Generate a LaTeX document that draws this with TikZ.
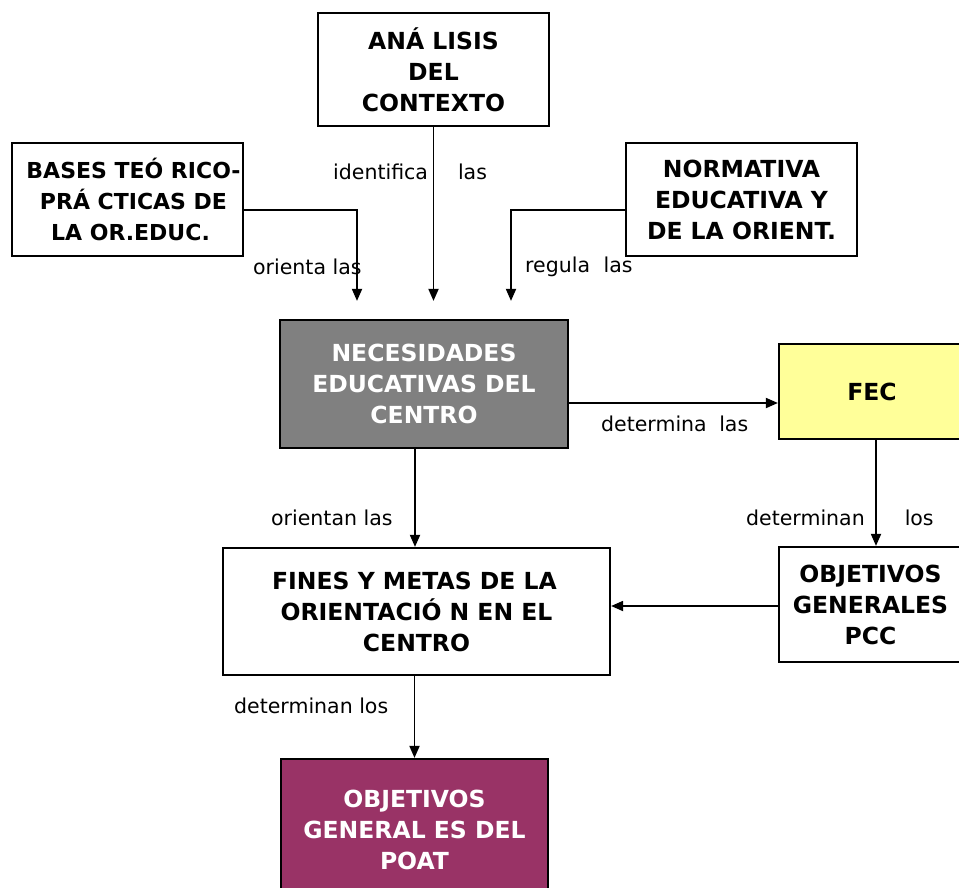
\documentclass[tikz,border=0pt]{standalone}
\usepackage{fontspec}
\setmainfont{DejaVu Sans}
\usetikzlibrary{arrows.meta,positioning}
\definecolor{necgray}{HTML}{808080}
\definecolor{fecyellow}{HTML}{FFFF99}
\definecolor{poatpurple}{HTML}{993366}
\tikzset{
  boxnode/.style={draw=black, line width=2.2pt, inner sep=0pt, align=center,
    font=\fontsize{23.5}{31}\selectfont\bfseries},
  lbl/.style={anchor=west, inner sep=0pt, font=\fontsize{20.5}{22}\selectfont},
  arr/.style={line width=1.8pt, -{Triangle[length=12pt,width=10pt]}}
}
\begin{document}
\begin{tikzpicture}[x=1pt,y=-1pt]
\useasboundingbox (0,0) rectangle (959,887);
\fill[white] (0,0) rectangle (959,887);

\node[boxnode, minimum width=231pt, minimum height=113pt] (ana) at (433.5,69.5) {ANÁ LISIS\\DEL\\CONTEXTO};
\node[boxnode, minimum width=231pt, minimum height=113pt, font=\fontsize{22}{31}\selectfont\bfseries] (bases) at (127.5,199.5) {\hspace*{12pt}BASES TEÓ RICO-\\\hspace*{12pt}PRÁ CTICAS DE\\\hspace*{6pt}LA OR.EDUC.};
\node[boxnode, minimum width=231pt, minimum height=113pt] (norm) at (741.5,199.5) {NORMATIVA\\EDUCATIVA Y\\DE LA ORIENT.};
\node[boxnode, fill=necgray, text=white, minimum width=288pt, minimum height=128pt] (nec) at (424,384) {NECESIDADES\\EDUCATIVAS DEL\\CENTRO};
\node[boxnode, fill=fecyellow, minimum width=186pt, minimum height=95pt] (fec) at (872,391.5) {FEC};
\node[boxnode, minimum width=387pt, minimum height=127pt] (fines) at (416.5,611.5) {FINES Y METAS DE LA\hspace*{4pt}\\ORIENTACIÓ N EN EL\hspace*{17pt}\\CENTRO};
\node[boxnode, minimum width=183pt, minimum height=115pt] (pcc) at (870.5,604.5) {OBJETIVOS\\GENERALES\\PCC};
\node[boxnode, fill=poatpurple, text=white, minimum width=267pt, minimum height=142pt] (poat) at (414.5,830) {OBJETIVOS\\GENERAL ES DEL\\POAT};

% connectors
\draw[arr, shorten >=18pt] (ana.south) -- (ana.south |- nec.north);
\coordinate (bstart) at ([yshift=-10.5pt]bases.east);
\coordinate (bend) at ([xshift=-67pt]nec.north);
\draw[arr, shorten >=18pt] (bstart) -| (bend);
\coordinate (nstart) at ([yshift=-10.5pt]norm.west);
\coordinate (nend) at ([xshift=87pt]nec.north);
\draw[arr, shorten >=18pt] (nstart) -| (nend);
\coordinate (necr) at ([yshift=-19pt]nec.east);
\draw[arr] (necr) -- (necr -| fec.west);
\coordinate (necb) at ([xshift=-9pt]nec.south);
\draw[arr] (necb) -- (necb |- fines.north);
\coordinate (fecb) at ([xshift=4pt]fec.south);
\draw[arr] (fecb) -- (fecb |- pcc.north);
\coordinate (pccl) at ([yshift=-1.5pt]pcc.west);
\draw[arr] (pccl) -- (pccl -| fines.east);
\draw[arr] (poat.north |- fines.south) -- (poat.north);

% labels
\node[lbl] (l1) at (333,172) {identifica\hspace{30pt}las};
\node[lbl] (l2) at (253,267) {orienta las};
\node[lbl] (l3) at (525,267) {regula\hspace{7pt} las};
\node[lbl] (l4) at (601,424) {determina\hspace{6pt} las};
\node[lbl] (l5) at (271,518) {orientan las};
\node[lbl] (l6) at (746,518) {determinan\hspace{40pt}los};
\node[lbl] (l7) at (234,706) {determinan los};
\end{tikzpicture}
\end{document}
